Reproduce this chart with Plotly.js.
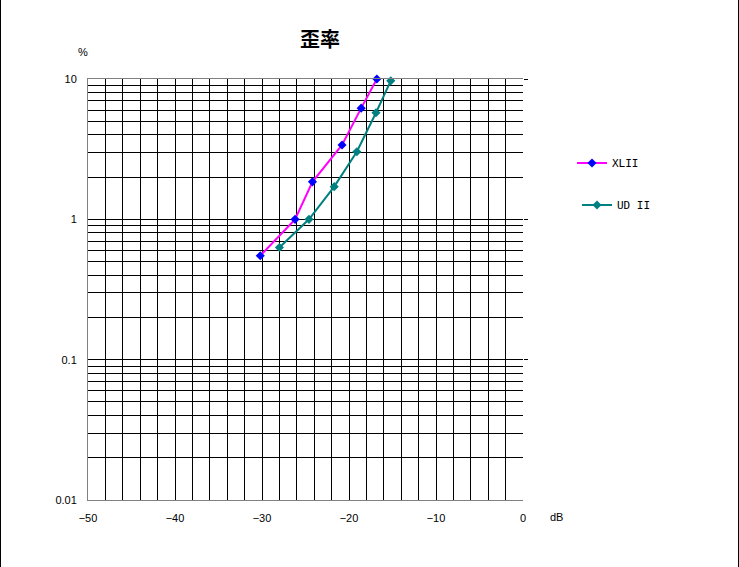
<!DOCTYPE html>
<html>
<head>
<meta charset="utf-8">
<script src="https://cdn.plot.ly/plotly-3.0.1.min.js"></script>
<style>
html,body{margin:0;padding:0;background:#fff;}
#wrap{position:relative;width:739px;height:567px;}
#chart{width:739px;height:567px;}
.bl{position:absolute;top:0;width:1px;height:567px;background:#000;}
</style>
</head>
<body>
<div id="wrap">
<div id="chart"></div>
<div class="bl" style="left:0;"></div>
<div class="bl" style="left:738px;"></div>
</div>
<script>
// Data
const xliiLevel = [-30.2, -26.2, -24.2, -20.8, -18.6, -16.8];   // dB
const xliiDist  = [0.55, 1.0, 1.85, 3.39, 6.2, 10.0];           // %
const udLevel   = [-28.0, -24.6, -21.7, -19.1, -16.9, -15.2];   // dB
const udDist    = [0.63, 1.0, 1.71, 3.03, 5.75, 9.7];           // %
const seriesNames = ['XLII', 'UD II'];
const yTickVals = [0.01, 0.1, 1, 10];
const yTickText = ['0.01', '0.1', '1', '10'];
const rightTickVals = [0.1, 1, 10];

const labelFont = {family: 'Liberation Sans, Arial, sans-serif', size: 11, color: '#000'};
const legendFont = {family: 'DejaVu Sans Mono, monospace', size: 11, color: '#000'};

const traces = [
  {
    x: xliiLevel, y: xliiDist, name: seriesNames[0], type: 'scatter', mode: 'lines+markers',
    line: {color: '#FF00FF', width: 2},
    marker: {symbol: 'diamond', size: 7, color: '#0000FF'},
    cliponaxis: false,
    legend: 'legend'
  },
  {
    x: udLevel, y: udDist, name: seriesNames[1], type: 'scatter', mode: 'lines+markers',
    line: {color: '#008080', width: 2},
    marker: {symbol: 'diamond', size: 7, color: '#008080'},
    cliponaxis: false,
    legend: 'legend2'
  },
  {x: [], y: [], yaxis: 'y2', showlegend: false, hoverinfo: 'skip'}
];

const layout = {
  width: 739, height: 567,
  margin: {l: 88, r: 216, t: 79, b: 67, pad: 0},
  paper_bgcolor: '#fff', plot_bgcolor: '#fff',
  showlegend: true,
  title: {
    text: '<b>歪率</b>',
    font: {family: 'Noto Sans CJK JP, sans-serif', size: 20, color: '#000'},
    xref: 'paper', x: (320 - 88) / 435, xanchor: 'center',
    yref: 'container', y: 1 - 40 / 567, yanchor: 'middle'
  },
  xaxis: {
    range: [-50, 0], dtick: 10, tick0: 0,
    showgrid: true, gridcolor: '#000', gridwidth: 1,
    minor: {dtick: 2, tick0: 0, showgrid: true, gridcolor: '#000', gridwidth: 1, ticks: ''},
    showline: true, linecolor: '#808080', linewidth: 1, mirror: true,
    ticks: '', tickfont: labelFont, zeroline: false,
    ticklabelstandoff: 8
  },
  yaxis: {
    type: 'log', range: [-2, 1],
    tickmode: 'array', tickvals: yTickVals, ticktext: yTickText,
    showgrid: true, gridcolor: '#000', gridwidth: 1,
    minor: {dtick: 'D1', showgrid: true, gridcolor: '#000', gridwidth: 1, ticks: ''},
    showline: true, linecolor: '#808080', linewidth: 1,
    ticks: '', tickfont: labelFont, zeroline: false,
    ticklabelstandoff: 8
  },
  yaxis2: {
    type: 'log', range: [-2, 1], overlaying: 'y', side: 'right',
    tickmode: 'array', tickvals: rightTickVals, ticks: 'outside', ticklen: 4,
    tickcolor: '#000', showticklabels: false, showgrid: false, showline: false, zeroline: false
  },
  legend: {
    x: (572 - 88) / 435, xanchor: 'left', y: (500 - 163) / 421, yanchor: 'middle',
    xref: 'paper', yref: 'paper',
    font: legendFont, bgcolor: 'rgba(0,0,0,0)', borderwidth: 0, itemwidth: 30
  },
  legend2: {
    x: (577 - 88) / 435, xanchor: 'left', y: (500 - 205) / 421, yanchor: 'middle',
    xref: 'paper', yref: 'paper',
    font: legendFont, bgcolor: 'rgba(0,0,0,0)', borderwidth: 0, itemwidth: 30
  },
  annotations: [
    {text: '%', xref: 'paper', yref: 'paper', x: (83 - 88) / 435, y: (500 - 52) / 421,
     showarrow: false, font: {family: 'Liberation Sans, sans-serif', size: 11, color: '#000'},
     xanchor: 'center', yanchor: 'middle'},
    {text: 'dB', xref: 'paper', yref: 'paper', x: (556 - 88) / 435, y: (500 - 517) / 421,
     showarrow: false, font: labelFont, xanchor: 'center', yanchor: 'middle'}
  ]
};

Plotly.newPlot('chart', traces, layout, {displayModeBar: false, staticPlot: true});
</script>
</body>
</html>
